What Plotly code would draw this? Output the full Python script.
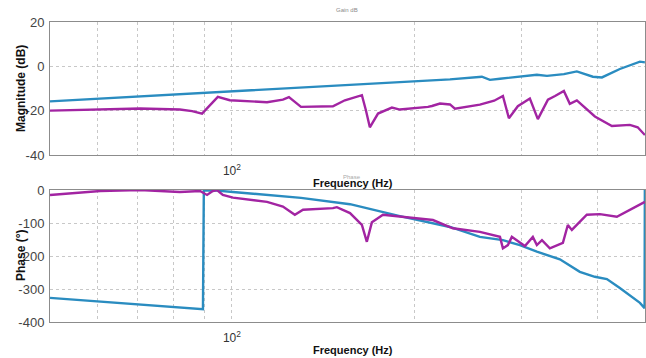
import plotly.graph_objects as go
from plotly.subplots import make_subplots

# ---- data ----
freq_mag_a = [50.2, 88.6, 203.9, 228.4, 257.7, 265.7, 276.0, 295.3, 317.4, 329.8,
              351.6, 369.3, 392.4, 406.1, 434.6, 469.0, 477.9]
mag_a = [-15.8, -12.2, -6.9, -5.9, -4.7, -6.1, -5.6, -4.7, -3.8, -4.3,
         -3.5, -2.3, -4.7, -5.0, -1.2, 2.1, 1.8]

freq_mag_b = [50.2, 60.7, 70.6, 82.1, 86.0, 89.3, 92.0, 94.8, 99.2, 114.2, 121.3, 124.1,
              129.9, 137.0, 146.6, 153.4, 163.6, 166.1, 168.6, 173.9, 183.3, 188.9,
              203.9, 210.1, 213.3, 219.9, 228.4, 232.7, 255.8, 270.0, 279.1, 285.5,
              295.3, 309.1, 318.6, 331.0, 340.0, 351.6, 359.6, 369.3, 395.4, 421.7,
              451.4, 465.0, 477.9]
mag_b = [-20.0, -19.5, -19.0, -19.5, -20.2, -21.3, -17.5, -13.8, -15.3, -16.2, -15.0, -13.9,
         -18.3, -18.2, -18.0, -15.3, -13.0, -19.8, -27.5, -21.3, -18.6, -19.5,
         -18.8, -18.3, -17.9, -16.8, -17.2, -19.1, -17.3, -15.5, -13.4, -23.4,
         -18.0, -14.5, -23.8, -15.0, -13.4, -11.1, -16.9, -15.4, -22.6, -26.9,
         -26.4, -27.5, -31.0]

freq_ph_a = [50.2, 89.6, 89.9, 94.5, 100.4, 114.2, 129.9, 156.4, 188.9, 228.4, 255.8,
             279.1, 297.6, 317.4, 346.3, 373.5, 395.4, 413.8, 434.6, 469.0, 477.3, 477.8]
ph_a = [-327, -361, -1, -2, -6, -15, -24, -43, -79, -112, -142,
        -152, -167, -187, -210, -248, -263, -270, -297, -342, -358, 0]

freq_ph_b = [50.2, 60.7, 70.6, 82.1, 88.6, 90.3, 91.0, 93.0, 94.5, 96.6, 100.4, 114.2,
             121.3, 126.9, 130.9, 146.6, 148.8, 156.4, 163.6, 166.7, 169.9, 177.2,
             188.9, 214.1, 230.9, 255.8, 276.0, 279.1, 284.4, 288.7, 303.3, 312.6,
             317.4, 323.6, 333.4, 350.3, 356.9, 362.4, 383.5, 403.0, 429.7, 456.6,
             477.9]
ph_b = [-15, -3, 0, -6, -3, -12, -15, -3, 0, -15, -23, -36,
        -50, -75, -60, -55, -52, -70, -106, -157, -98, -75,
        -80, -91, -116, -127, -142, -177, -167, -142, -170, -142,
        -167, -152, -177, -160, -106, -121, -75, -73, -81, -55,
        -36]

minor_ticks = [60, 70, 80, 90, 100, 200, 300, 400]
minor_labels = ["", "", "", "", "10<sup>2</sup>", "", "", ""]
mag_ticks = [-40, -20, 0, 20]
mag_labels = ["-40", "-20", "0", "20"]
phase_ticks = [-400, -300, -200, -100, 0]
phase_labels = ["-400", "-300", "-200", "-100", "0"]

BLUE = "#2a8cc0"
MAGENTA = "#a224a2"
FONT = "Arial"

fig = make_subplots(rows=2, cols=1)

fig.add_trace(go.Scatter(x=freq_mag_a, y=mag_a, mode="lines",
                         line=dict(color=BLUE, width=2.4), showlegend=False), row=1, col=1)
fig.add_trace(go.Scatter(x=freq_mag_b, y=mag_b, mode="lines",
                         line=dict(color=MAGENTA, width=2.4), showlegend=False), row=1, col=1)
fig.add_trace(go.Scatter(x=freq_ph_a, y=ph_a, mode="lines",
                         line=dict(color=BLUE, width=2.4), showlegend=False), row=2, col=1)
fig.add_trace(go.Scatter(x=freq_ph_b, y=ph_b, mode="lines",
                         line=dict(color=MAGENTA, width=2.4), showlegend=False), row=2, col=1)

W = 646
H = 358.0

def dom_y(top, bottom):
    return [1 - bottom / H, 1 - top / H]

axis_common = dict(type="log", range=[1.7007, 2.6795], tickvals=minor_ticks,
                   ticktext=minor_labels, showgrid=True, gridcolor="#c8c8c8",
                   griddash="dot", gridwidth=1, showline=True, linecolor="#8c8c8c",
                   mirror=True, ticks="", zeroline=False, automargin=False,
                   ticklabelstandoff=5,
                   tickfont=dict(family=FONT, size=12, color="#333333"))
fig.update_xaxes(**axis_common, domain=[0, 1], row=1, col=1)
fig.update_xaxes(**axis_common, domain=[0, 1], row=2, col=1)

yaxis_common = dict(showgrid=True, gridcolor="#c8c8c8", griddash="dot", gridwidth=1,
                    showline=True, linecolor="#8c8c8c", mirror=True, ticks="",
                    zeroline=False, ticklabelstandoff=2, automargin=False,
                    tickfont=dict(family=FONT, size=13, color="#444444"))
fig.update_yaxes(**yaxis_common, range=[-40, 20], tickvals=mag_ticks, ticktext=mag_labels,
                 domain=dom_y(22, 155), row=1, col=1)
fig.update_yaxes(**yaxis_common, range=[-400, 0], tickvals=phase_ticks,
                 ticktext=phase_labels, domain=dom_y(190, 322), row=2, col=1)

def px_x(px):
    return (px - 50) / 595.0

def px_y(py):
    return 1 - py / H

vert = dict(family=FONT, size=12, color="#111111")
horiz = dict(family=FONT, size=11, color="#111111")
annotations = [
    dict(text="<b>Magnitude (dB)</b>", x=px_x(21), y=px_y(89), textangle=-90, font=vert),
    dict(text="<b>Phase (°)</b>", x=px_x(21), y=px_y(256), textangle=-90, font=vert),
    dict(text="<b>Frequency (Hz)</b>", x=px_x(353), y=px_y(183), font=horiz),
    dict(text="<b>Frequency (Hz)</b>", x=px_x(353), y=px_y(350), font=horiz),
    dict(text="Gain dB", x=px_x(347), y=px_y(10),
         font=dict(family=FONT, size=6, color="#8a8a8a")),
    dict(text="Phase", x=px_x(352), y=px_y(177),
         font=dict(family=FONT, size=6, color="#aaaaaa")),
]
for a in annotations:
    a.update(xref="paper", yref="paper", showarrow=False, xanchor="center", yanchor="middle")

fig.update_layout(width=W, height=int(H), margin=dict(l=50, r=1, t=0, b=0,
                                                      autoexpand=False),
                  plot_bgcolor="white", paper_bgcolor="white",
                  annotations=annotations, showlegend=False)

fig.write_html("out.html",
               config={"displayModeBar": False},
               post_script="document.body.style.margin='0';"
                           "document.body.style.overflow='hidden';")
